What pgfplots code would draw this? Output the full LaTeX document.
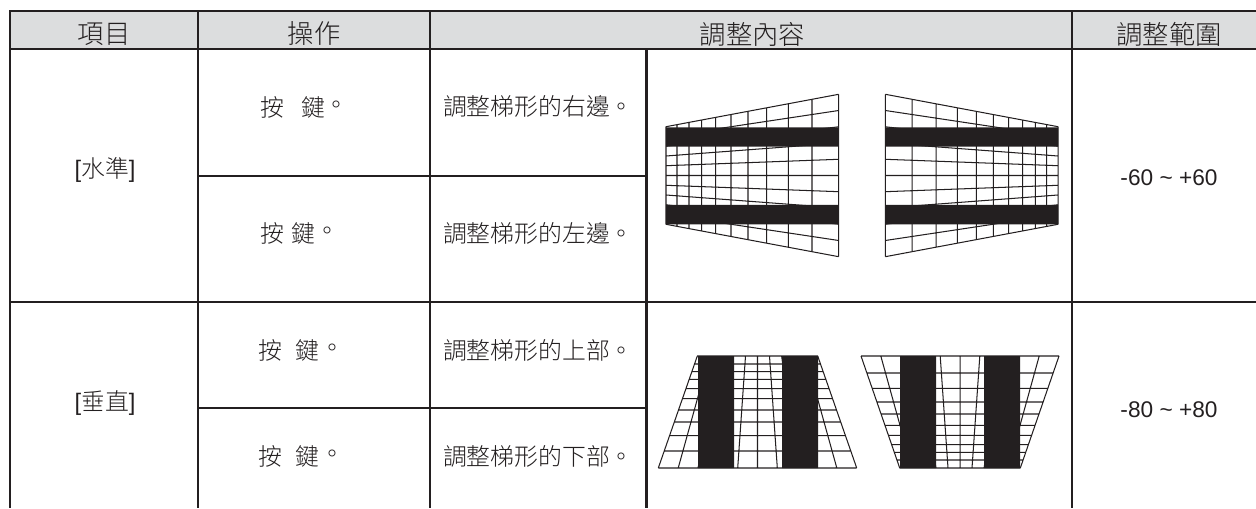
\documentclass[border=0pt]{standalone}
\usepackage{fontspec}
\usepackage{pgfplots}
\pgfplotsset{compat=1.18}
\setmainfont{Liberation Sans}
\newfontfamily\cjk{Noto Sans CJK TC Light}
\definecolor{ink}{HTML}{231F20}
\definecolor{head}{HTML}{DCDDDE}
\newcommand{\hdr}[1]{\fontsize{15.8}{16}\selectfont\cjk #1}
\newcommand{\bdy}[1]{\fontsize{14.3}{15}\selectfont\cjk #1}
\begin{document}
\begin{tikzpicture}
\begin{axis}[
  scale only axis, width=753.6pt, height=304.8pt,
  xmin=0, xmax=1256, ymin=0, ymax=508, y dir=reverse,
  hide axis, unbounded coords=jump, no markers,
  every axis plot/.append style={ink, line join=miter},
]
% header band
\addplot[fill=head, draw=none, forget plot] coordinates {(10,11) (1256,11) (1256,49) (10,49) (10,11)};
% table rules
\addplot[ink, line width=1.35pt] coordinates {
(9,11)(1256,11)(0,nan)
(9,49)(1256,49)(0,nan)
(9,302)(1256,302)(0,nan)
(198,176)(646.5,176)(0,nan)
(198,408)(646.5,408)(0,nan)
(10,11)(10,508)(0,nan)
(198,11)(198,508)(0,nan)
(430,11)(430,508)(0,nan)
(646.5,49)(646.5,508)(0,nan)
(1072,11)(1072,508)
};
% grid A
\addplot[ink, line width=0.62pt] coordinates {
(666,126.7)(666,224.3)(0,nan)
(677,124.6)(677,226.4)(0,nan)
(689,122.4)(689,228.6)(0,nan)
(701.7,120)(701.7,231)(0,nan)
(715.7,117.4)(715.7,233.6)(0,nan)
(731,114.5)(731,236.5)(0,nan)
(748,111.3)(748,239.7)(0,nan)
(766.7,107.8)(766.7,243.2)(0,nan)
(788.3,103.7)(788.3,247.3)(0,nan)
(812,99.3)(812,251.7)(0,nan)
(838.7,94.3)(838.7,256.7)(0,nan)
(666,126.7)(838.7,94.3)(0,nan)
(666,136.5)(838.7,110.5)(0,nan)
(666,146.2)(838.7,126.8)(0,nan)
(666,156)(838.7,143)(0,nan)
(666,165.7)(838.7,159.3)(0,nan)
(666,175.5)(838.7,175.5)(0,nan)
(666,185.3)(838.7,191.7)(0,nan)
(666,195)(838.7,208)(0,nan)
(666,204.8)(838.7,224.2)(0,nan)
(666,214.5)(838.7,240.5)(0,nan)
(666,224.3)(838.7,256.7)
};
\addplot[fill=ink, draw=none] coordinates {(666,127.3)(838.7,127.3)(838.7,146.7)(666,146.7)(666,127.3)};
\addplot[fill=ink, draw=none] coordinates {(666,205)(838.7,205)(838.7,224.3)(666,224.3)(666,205)};
% grid B
\addplot[ink, line width=0.62pt] coordinates {
(885.3,94.3)(885.3,256.7)(0,nan)
(912,99.3)(912,251.7)(0,nan)
(936,103.8)(936,247.2)(0,nan)
(957.3,107.8)(957.3,243.2)(0,nan)
(976.3,111.4)(976.3,239.6)(0,nan)
(993.3,114.6)(993.3,236.4)(0,nan)
(1008.7,117.5)(1008.7,233.5)(0,nan)
(1022.7,120.1)(1022.7,230.9)(0,nan)
(1035.3,122.4)(1035.3,228.6)(0,nan)
(1046.7,124.6)(1046.7,226.4)(0,nan)
(1058,126.7)(1058,224.3)(0,nan)
(885.3,94.3)(1058,126.7)(0,nan)
(885.3,110.5)(1058,136.5)(0,nan)
(885.3,126.8)(1058,146.2)(0,nan)
(885.3,143)(1058,156)(0,nan)
(885.3,159.3)(1058,165.7)(0,nan)
(885.3,175.5)(1058,175.5)(0,nan)
(885.3,191.7)(1058,185.3)(0,nan)
(885.3,208)(1058,195)(0,nan)
(885.3,224.2)(1058,204.8)(0,nan)
(885.3,240.5)(1058,214.5)(0,nan)
(885.3,256.7)(1058,224.3)
};
\addplot[fill=ink, draw=none] coordinates {(885.3,127.3)(1058,127.3)(1058,146.7)(885.3,146.7)(885.3,127.3)};
\addplot[fill=ink, draw=none] coordinates {(885.3,205)(1058,205)(1058,224.3)(885.3,224.3)(885.3,205)};
% grid C
\addplot[ink, line width=0.62pt] coordinates {
(697.2,356)(817.9,356)(0,nan)
(694.4,364)(820.6,364)(0,nan)
(691.7,371.7)(823.3,371.7)(0,nan)
(689.1,379.3)(825.9,379.3)(0,nan)
(685.8,388.7)(829.2,388.7)(0,nan)
(682.3,398.7)(832.7,398.7)(0,nan)
(678.4,410)(836.6,410)(0,nan)
(674.3,422)(840.7,422)(0,nan)
(669.5,435.7)(845.5,435.7)(0,nan)
(664.2,451)(850.8,451)(0,nan)
(658.3,468)(856.7,468)(0,nan)
(697.3,356)(658.3,468)(0,nan)
(709.3,356)(678.2,468)(0,nan)
(721.4,356)(698,468)(0,nan)
(733.4,356)(717.8,468)(0,nan)
(745.5,356)(737.7,468)(0,nan)
(757.5,356)(757.5,468)(0,nan)
(769.5,356)(777.3,468)(0,nan)
(781.6,356)(797.2,468)(0,nan)
(793.6,356)(817,468)(0,nan)
(805.7,356)(836.8,468)(0,nan)
(817.7,356)(856.7,468)
};
\addplot[fill=ink, draw=none] coordinates {(698,356)(734,356)(734,468)(698,468)(698,356)};
\addplot[fill=ink, draw=none] coordinates {(782,356)(818,356)(818,468)(782,468)(782,356)};
% grid D
\addplot[ink, line width=0.62pt] coordinates {
(861,356)(1059,356)(0,nan)
(866.9,373)(1053.1,373)(0,nan)
(872.2,388.3)(1047.8,388.3)(0,nan)
(876.9,402)(1043.1,402)(0,nan)
(881,414)(1039,414)(0,nan)
(885,425.3)(1035,425.3)(0,nan)
(888.4,435.3)(1031.6,435.3)(0,nan)
(891.6,444.7)(1028.4,444.7)(0,nan)
(894.3,452.3)(1025.7,452.3)(0,nan)
(896.9,460)(1023.1,460)(0,nan)
(899.7,468)(1020.3,468)(0,nan)
(861,356)(899.7,468)(0,nan)
(880.8,356)(911.8,468)(0,nan)
(900.6,356)(923.8,468)(0,nan)
(920.4,356)(935.9,468)(0,nan)
(940.2,356)(948,468)(0,nan)
(960,356)(960,468)(0,nan)
(979.8,356)(972,468)(0,nan)
(999.6,356)(984.1,468)(0,nan)
(1019.4,356)(996.2,468)(0,nan)
(1039.2,356)(1008.2,468)(0,nan)
(1059,356)(1020.3,468)
};
\addplot[fill=ink, draw=none] coordinates {(900,356)(936,356)(936,468)(900,468)(900,356)};
\addplot[fill=ink, draw=none] coordinates {(984,356)(1020,356)(1020,468)(984,468)(984,356)};
% text
\tikzset{t/.style={text=ink, inner sep=0pt, outer sep=0pt}}
\node[t] at (axis cs:104,34) {\hdr{項目}};
\node[t] at (axis cs:314,34) {\hdr{操作}};
\node[t] at (axis cs:752.5,34) {\hdr{調整內容}};
\node[t] at (axis cs:1169,34) {\hdr{調整範圍}};
\node[t] at (axis cs:105,170) {\bdy{{\rmfamily[}水準{\rmfamily]}}};
\node[t] at (axis cs:105,403) {\bdy{{\rmfamily[}垂直{\rmfamily]}}};
\node[t] at (axis cs:272.5,107) {\bdy{按}};
\node[t] at (axis cs:313.5,107) {\bdy{鍵}};
\node[t] at (axis cs:336.7,107) {\bdy{。}};
\node[t] at (axis cs:272.5,233) {\bdy{按}};
\node[t] at (axis cs:303.5,233) {\bdy{鍵}};
\node[t] at (axis cs:327,233) {\bdy{。}};
\node[t] at (axis cs:270.5,350) {\bdy{按}};
\node[t] at (axis cs:307.5,350) {\bdy{鍵}};
\node[t] at (axis cs:332,350) {\bdy{。}};
\node[t] at (axis cs:270.5,456) {\bdy{按}};
\node[t] at (axis cs:307.5,456) {\bdy{鍵}};
\node[t] at (axis cs:332,456) {\bdy{。}};
\node[t,anchor=west] at (axis cs:443,106) {\bdy{調整梯形的右邊。}};
\node[t,anchor=west] at (axis cs:443,233) {\bdy{調整梯形的左邊。}};
\node[t,anchor=west] at (axis cs:443,350) {\bdy{調整梯形的上部。}};
\node[t,anchor=west] at (axis cs:443,456) {\bdy{調整梯形的下部。}};
\node[t] at (axis cs:1169,178) {\fontsize{13.6}{14}\selectfont -60 \textasciitilde{} +60};
\node[t] at (axis cs:1169,410) {\fontsize{13.6}{14}\selectfont -80 \textasciitilde{} +80};
\end{axis}
\pgfresetboundingbox
\useasboundingbox (0,0) rectangle (753.6pt,304.8pt);
\end{tikzpicture}
\end{document}
